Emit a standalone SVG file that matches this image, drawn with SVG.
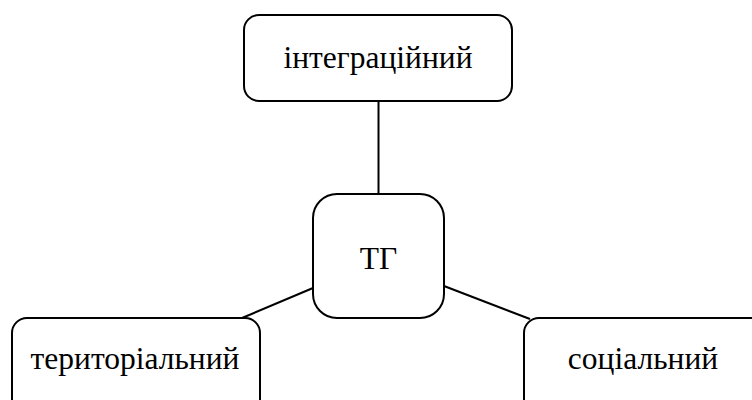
<svg xmlns="http://www.w3.org/2000/svg" width="752" height="400" viewBox="0 0 752 400">
<style>
.box{fill:#fff;stroke:#000;stroke-width:2}
.lbl{font-family:'Liberation Serif','Times New Roman',serif;font-size:31.5px;fill:#000;text-anchor:middle}
.con{stroke:#000;stroke-width:2;fill:none}
</style>
<rect width="752" height="400" fill="#fff"/>
<g id="connectors">
<line class="con" x1="378.5" y1="101" x2="378.5" y2="194"/>
<line class="con" x1="313" y1="288" x2="242" y2="318"/>
<line class="con" x1="444" y1="286" x2="530" y2="319"/>
</g>
<g id="n-integr">
<rect class="box" x="244" y="15" width="268" height="86" rx="15"/>
<text class="lbl" x="378" y="68">інтеграційний</text>
</g>
<g id="n-tg">
<rect class="box" x="313" y="194" width="131" height="124" rx="24"/>
<text class="lbl" x="378.5" y="269">ТГ</text>
</g>
<g id="n-terr">
<rect class="box" x="12" y="318" width="248" height="100" rx="15"/>
<text class="lbl" x="135" y="369">територіальний</text>
</g>
<g id="n-soc">
<rect class="box" x="524" y="318" width="260" height="100" rx="15"/>
<text class="lbl" x="643" y="369">соціальний</text>
</g>
</svg>
